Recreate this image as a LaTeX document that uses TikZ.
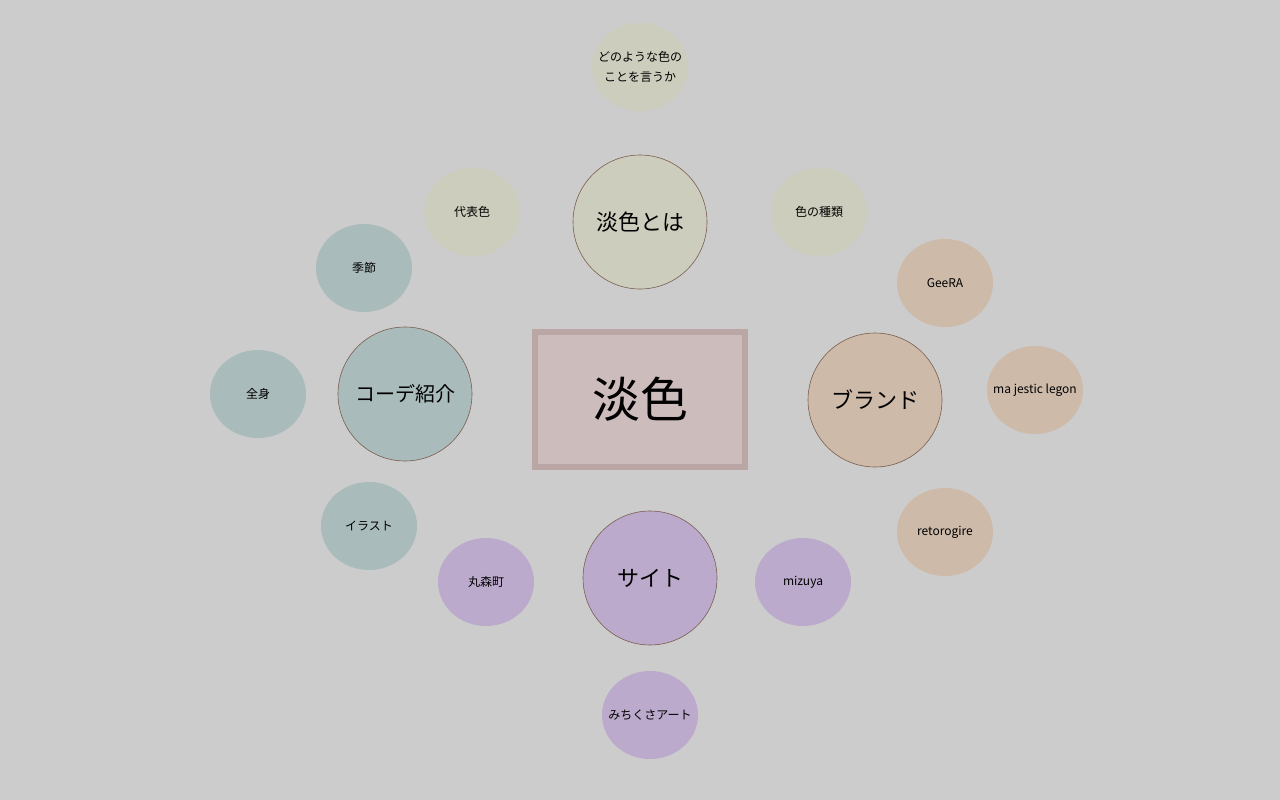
\documentclass[tikz,border=0pt]{standalone}
\usepackage{fontspec}
\setmainfont{Noto Sans CJK JP}
\usetikzlibrary{shapes.geometric}
\definecolor{bg}{HTML}{CCCCCC}
\definecolor{olive}{HTML}{CDCDBD}
\definecolor{teal}{HTML}{A9BBBA}
\definecolor{tan}{HTML}{CDBAA9}
\definecolor{lilac}{HTML}{BBAACC}
\definecolor{boxfill}{HTML}{CDBCBC}
\definecolor{boxedge}{HTML}{BBA6A6}
\definecolor{ring}{HTML}{7A5E50}
\tikzset{
  big/.style={circle, draw=ring, line width=0.6pt, minimum size=134pt, inner sep=0pt, font=\fontsize{22}{26}\selectfont},
  small/.style={ellipse, minimum width=96pt, minimum height=88pt, inner ysep=0pt, inner xsep=-12pt, font=\fontsize{12}{20}\selectfont, align=center},
}
\begin{document}
\begin{tikzpicture}[x=1pt,y=-1pt]
\fill[bg] (0,0) rectangle (1280,800);
\useasboundingbox (0,0) rectangle (1280,800);
\node[draw=boxedge, line width=6pt, fill=boxfill, minimum width=210pt, minimum height=135pt, inner sep=0pt, font=\fontsize{48}{54}\selectfont] (main) at (640,399.5) {淡色};

\node[big, fill=olive] (toha) at (640,222) {淡色とは};
\node[small, fill=olive] (q) at (640,67) {どのような色の\\ことを言うか};
\node[small, fill=olive] (dai) at (472,212) {代表色};
\node[small, fill=olive] (shu) at (819,212) {色の種類};

\node[big, fill=teal, font=\fontsize{20}{24}\selectfont] (code) at (405,394) {コーデ紹介};
\node[small, fill=teal] (kisetsu) at (364,268) {季節};
\node[small, fill=teal] (zen) at (258,394) {全身};
\node[small, fill=teal] (ira) at (369,526) {イラスト};

\node[big, fill=tan] (brand) at (875,400) {ブランド};
\node[small, fill=tan] (geera) at (945,283) {GeeRA};
\node[small, fill=tan] (maj) at (1035,390) {ma jestic legon};
\node[small, fill=tan] (reto) at (945,532) {retorogire};

\node[big, fill=lilac] (site) at (650,578) {サイト};
\node[small, fill=lilac] (maru) at (486,582) {丸森町};
\node[small, fill=lilac] (mizu) at (803,582) {mizuya};
\node[small, fill=lilac] (michi) at (650,715) {みちくさアート};
\end{tikzpicture}
\end{document}
